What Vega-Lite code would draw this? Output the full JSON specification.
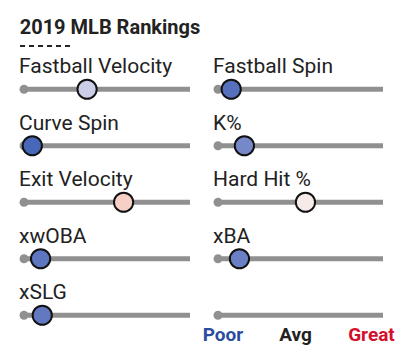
{
  "$schema": "https://vega.github.io/schema/vega-lite/v6.json",
  "background": "white",
  "padding": {"left": 18, "top": 17, "right": 0, "bottom": 0},
  "title": {"text": "2019 MLB Rankings", "anchor": "start", "font": "Roboto", "fontSize": 20, "fontWeight": "bold", "color": "#222222", "dx": 1, "offset": 7},
  "spacing": 28,
  "bounds": "flush",
  "config": {"view": {"stroke": null}},
  "datasets": {
    "metrics": [
      {"metric": "Fastball Velocity", "col": "left", "row": 0, "pct": 38},
      {"metric": "Curve Spin", "col": "left", "row": 1, "pct": 5},
      {"metric": "Exit Velocity", "col": "left", "row": 2, "pct": 60},
      {"metric": "xwOBA", "col": "left", "row": 3, "pct": 10},
      {"metric": "xSLG", "col": "left", "row": 4, "pct": 11},
      {"metric": "Fastball Spin", "col": "right", "row": 0, "pct": 8},
      {"metric": "K%", "col": "right", "row": 1, "pct": 16},
      {"metric": "Hard Hit %", "col": "right", "row": 2, "pct": 53},
      {"metric": "xBA", "col": "right", "row": 3, "pct": 13},
      {"metric": "", "col": "right", "row": 4, "pct": null}
    ],
    "legend": [
      {"label": "Poor", "pct": 3},
      {"label": "Avg", "pct": 47},
      {"label": "Great", "pct": 93}
    ]
  },
  "hconcat": [
    {
      "width": 166,
      "height": 282.5,
      "data": {"name": "metrics"},
      "transform": [{"filter": "datum.col == 'left'"}],
      "layer": [
        {
          "mark": {"type": "rule", "strokeWidth": 1.5, "color": "#222222", "strokeDash": [5, 4]},
          "encoding": {
            "x": {"datum": -2.4, "type": "quantitative", "scale": {"domain": [0, 100]}, "axis": null},
            "x2": {"datum": 27.7},
            "y": {"datum": -0.77, "type": "quantitative", "scale": {"domain": [-0.5, 4.5], "reverse": true}, "axis": null}
          }
        },
        {
          "mark": {"type": "rule", "strokeWidth": 5, "color": "#909090"},
          "encoding": {
            "x": {"datum": 0, "type": "quantitative", "scale": {"domain": [0, 100]}, "axis": null},
            "x2": {"datum": 100},
            "y": {"field": "row", "type": "quantitative", "scale": {"domain": [-0.5, 4.5], "reverse": true}, "axis": null}
          }
        },
        {
          "mark": {"type": "point", "filled": true, "size": 80, "color": "#909090", "opacity": 1},
          "encoding": {
            "x": {"datum": 0, "type": "quantitative"},
            "y": {"field": "row", "type": "quantitative"}
          }
        },
        {
          "transform": [{"filter": "isValid(datum.pct)"}],
          "mark": {"type": "point", "filled": true, "size": 370, "stroke": "#111111", "strokeWidth": 2, "opacity": 1},
          "encoding": {
            "x": {"field": "pct", "type": "quantitative"},
            "y": {"field": "row", "type": "quantitative"},
            "fill": {"field": "pct", "type": "quantitative", "scale": {"domain": [0, 50, 100], "range": ["#2a59b2", "#f7f7f7", "#c8141e"]}, "legend": null}
          }
        },
        {
          "mark": {"type": "text", "align": "left", "baseline": "alphabetic", "dx": -5, "dy": -16, "font": "Roboto", "fontSize": 21, "color": "#222222"},
          "encoding": {
            "x": {"datum": 0, "type": "quantitative"},
            "y": {"field": "row", "type": "quantitative"},
            "text": {"field": "metric"}
          }
        }
      ]
    },
    {
      "width": 165,
      "height": 282.5,
      "layer": [
        {
          "data": {"name": "metrics"},
          "transform": [{"filter": "datum.col == 'right'"}],
          "layer": [
            {
              "mark": {"type": "rule", "strokeWidth": 5, "color": "#909090"},
              "encoding": {
                "x": {"datum": 0, "type": "quantitative", "scale": {"domain": [0, 100]}, "axis": null},
                "x2": {"datum": 100},
                "y": {"field": "row", "type": "quantitative", "scale": {"domain": [-0.5, 4.5], "reverse": true}, "axis": null}
              }
            },
            {
              "mark": {"type": "point", "filled": true, "size": 80, "color": "#909090", "opacity": 1},
              "encoding": {
                "x": {"datum": 0, "type": "quantitative"},
                "y": {"field": "row", "type": "quantitative"}
              }
            },
            {
              "transform": [{"filter": "isValid(datum.pct)"}],
              "mark": {"type": "point", "filled": true, "size": 370, "stroke": "#111111", "strokeWidth": 2, "opacity": 1},
              "encoding": {
                "x": {"field": "pct", "type": "quantitative"},
                "y": {"field": "row", "type": "quantitative"},
                "fill": {"field": "pct", "type": "quantitative", "scale": {"domain": [0, 50, 100], "range": ["#2a59b2", "#f7f7f7", "#c8141e"]}, "legend": null}
              }
            },
            {
              "mark": {"type": "text", "align": "left", "baseline": "alphabetic", "dx": -5, "dy": -16, "font": "Roboto", "fontSize": 21, "color": "#222222"},
              "encoding": {
                "x": {"datum": 0, "type": "quantitative"},
                "y": {"field": "row", "type": "quantitative"},
                "text": {"field": "metric"}
              }
            }
          ]
        },
        {
          "data": {"name": "legend"},
          "mark": {"type": "text", "align": "center", "baseline": "middle", "font": "Roboto", "fontSize": 19, "fontWeight": "bold"},
          "encoding": {
            "x": {"field": "pct", "type": "quantitative"},
            "y": {"datum": 4.35, "type": "quantitative"},
            "text": {"field": "label"},
            "color": {"field": "label", "type": "nominal", "scale": {"domain": ["Poor", "Avg", "Great"], "range": ["#2b4c9e", "#222222", "#d40f2b"]}, "legend": null}
          }
        }
      ]
    }
  ]
}
